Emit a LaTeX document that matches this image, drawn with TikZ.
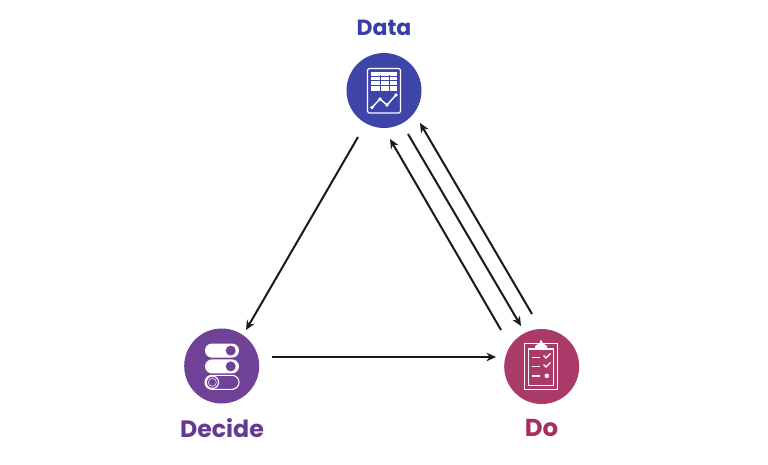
\documentclass[tikz,border=0pt]{standalone}
\usepackage{fontspec}
\setmainfont{Poppins}
\usetikzlibrary{arrows.meta}
\definecolor{datac}{HTML}{3F44A8}
\definecolor{decidec}{HTML}{6F4298}
\definecolor{doc}{HTML}{AA3A68}
\definecolor{datat}{HTML}{3A3FA6}
\definecolor{decidet}{HTML}{663A94}
\definecolor{dot}{HTML}{A62F62}
\tikzset{
  hub/.style={circle,minimum size=75pt,inner sep=0pt,fill=#1},
  lab/.style={font=\fontsize{22}{24}\selectfont\bfseries,text=#1,inner sep=0pt},
  flow/.style={draw=black!90,line width=2pt,-{Stealth[length=9.5pt,width=8.5pt]}},
  ico/.style={draw=white,line width=1.1pt},
  icot/.style={draw=white,line width=1.4pt},
}
\begin{document}
\begin{tikzpicture}[x=1pt,y=-1pt]
\useasboundingbox[fill=white] (0,0) rectangle (768,465);
\node[hub=datac] (data) at (384,90.5) {};
\node[hub=decidec] (decide) at (221.7,366) {};
\node[hub=doc] (do) at (541.7,366.5) {};
\node[lab=datat] (tdata) at (384,28) {Data};
\node[lab=decidet,font=\fontsize{23.7}{25}\selectfont\bfseries] (tdecide) at (222,428) {Decide};
\node[lab=dot,font=\fontsize{24.5}{26}\selectfont\bfseries] (tdo) at (541.5,428) {Do};
% connector ends
\coordinate (a1) at (358,137); \coordinate (b1) at (246,330);
\coordinate (b2) at (272,357); \coordinate (c2) at (496,357);
\coordinate (c3) at (501,330); \coordinate (a3) at (390,139);
\coordinate (a4) at (408,134); \coordinate (c4) at (521,326);
\coordinate (c5) at (532,314); \coordinate (a5) at (420,123);
\draw[flow] (a1) -- (b1);
\draw[flow] (b2) -- (c2);
\draw[flow] (c3) -- (a3);
\draw[flow] (a4) -- (c4);
\draw[flow] (c5) -- (a5);
% Data icon
\begin{scope}[shift={(340,10)}]
\draw[ico,rounded corners=1.5pt] (27.5,58.5) rectangle (60.5,103);
\fill[white] (31,62) rectangle (57,81);
\foreach \y in {66,70.5,75}{\draw[draw=datac,line width=0.8pt] (31,\y) -- (57,\y);}
\foreach \x in {40,49}{\draw[draw=datac,line width=0.8pt] (\x,65) -- (\x,81);}
\draw[icot] (32,97.5) -- (40,89) -- (47,95) -- (56,85);
\foreach \x/\y in {32/97.5,40/89,47/95,56/85}{\fill[white] (\x,\y) circle (1.8);}
\end{scope}
% Decide icon
\begin{scope}[shift={(170,320)}]
\fill[white,rounded corners=7pt] (35,23.5) rectangle (69,37.7);
\fill[decidec] (60.7,30.6) circle (5);
\fill[white,rounded corners=7pt] (35,39.4) rectangle (69,53.4);
\fill[decidec] (60.7,46.4) circle (5);
\draw[ico,rounded corners=7pt] (35,55.3) rectangle (69,69.3);
\draw[ico] (42.4,62.3) circle (6.2);
\draw[draw=white,line width=0.5pt] (42.4,62.3) circle (4);
\end{scope}
% Do icon
\begin{scope}[shift={(490,310)}]
\draw[ico] (34.5,33.5) rectangle (67.5,79.5);
\draw[ico] (38.5,39) rectangle (63.5,75.5);
\fill[white] (45,38.5) -- (45,36) -- (49,33.5) -- (51,29.5) -- (53,33.5) -- (57,36) -- (57,38.5) -- cycle;
\draw[icot] (42,47.7) -- (49.5,47.7);
\draw[icot] (42,56.5) -- (49.5,56.5);
\draw[icot] (42,65.8) -- (49.5,65.8);
\draw[icot] (53.5,45.5) -- (56,48) -- (60.5,43.5);
\draw[icot] (53.5,54.5) -- (56,57) -- (60.5,52.5);
\fill[white] (56.8,65.8) circle (2.3);
\end{scope}
\end{tikzpicture}
\end{document}
